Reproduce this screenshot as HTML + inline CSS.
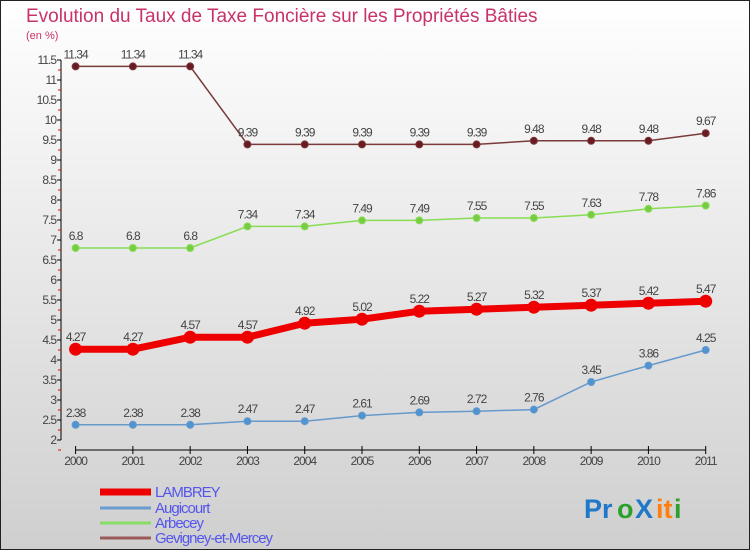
<!DOCTYPE html>
<html><head><meta charset="utf-8"><style>
html,body{margin:0;padding:0}
body{width:750px;height:550px;overflow:hidden;font-family:"Liberation Sans",sans-serif}
</style></head><body>
<svg id="chart" width="750" height="550" xmlns="http://www.w3.org/2000/svg" font-family="Liberation Sans, sans-serif">
<defs><linearGradient id="bg" x1="0" y1="0" x2="0" y2="1"><stop offset="0" stop-color="#ffffff"/><stop offset="1" stop-color="#cfcfcf"/></linearGradient></defs>
<rect x="0.5" y="0.5" width="749" height="549" fill="url(#bg)" stroke="#222" stroke-width="1"/>
<text x="26" y="22" font-size="19" fill="#c8326a">Evolution du Taux de Taxe Foncière sur les Propriétés Bâties</text>
<text x="26" y="39" font-size="11" fill="#c8326a">(en %)</text>
<g id="axes"></g>
<g id="series"></g>
<g id="legend"></g>
<g font-size="27" font-weight="bold">
<text x="584" y="518" fill="#1f78c8">Pr</text><text x="617" y="518" fill="#2ca02c">o</text><text x="635" y="518" fill="#1f78c8">X</text><text x="656" y="518" fill="#ff7f0e">it</text><text x="674" y="518" fill="#2ca02c">i</text>
</g>
</svg>
<script>
const years=["2000","2001","2002","2003","2004","2005","2006","2007","2008","2009","2010","2011"];
const lambrey=[4.27,4.27,4.57,4.57,4.92,5.02,5.22,5.27,5.32,5.37,5.42,5.47];
const augicourt=[2.38,2.38,2.38,2.47,2.47,2.61,2.69,2.72,2.76,3.45,3.86,4.25];
const arbecey=[6.8,6.8,6.8,7.34,7.34,7.49,7.49,7.55,7.55,7.63,7.78,7.86];
const gevigney=[11.34,11.34,11.34,9.39,9.39,9.39,9.39,9.39,9.48,9.48,9.48,9.67];
const yTicks=[2,2.5,3,3.5,4,4.5,5,5.5,6,6.5,7,7.5,8,8.5,9,9.5,10,10.5,11,11.5];
const NS="http://www.w3.org/2000/svg";
function xs(i){return 75.6+i*(705.7-75.6)/11;}
function ys(v){return 440-(v-2)*40;}
function mk(tag,attrs,parent){const e=document.createElementNS(NS,tag);for(const k in attrs)e.setAttribute(k,attrs[k]);parent.appendChild(e);return e;}
const axes=document.getElementById('axes');
let l=mk('line',{x1:61,y1:ys(11.5),x2:61,y2:ys(2),stroke:'#000'},axes);


yTicks.forEach(t=>{
 const y=ys(t);
 const tk=mk('line',{x1:57,y1:y,x2:61,y2:y,stroke:'#000'},axes);
 
 
 const mt=mk('line',{x1:58,y1:y+10,x2:61,y2:y+10,stroke:'#e00'},axes);
 
 
 const tx=mk('text',{x:56,y:y+4,'font-size':12,'text-anchor':'end',fill:'#444','letter-spacing':'-1'},axes);
 tx.textContent=String(t);
 
 
});
l=mk('line',{x1:xs(0),y1:450,x2:xs(11),y2:450,stroke:'#000'},axes);


years.forEach((yr,i)=>{
 const tk=mk('line',{x1:xs(i),y1:446,x2:xs(i),y2:454,stroke:'#000'},axes);
 
 
 const tx=mk('text',{x:xs(i),y:465,'font-size':12,'text-anchor':'middle',fill:'#444','letter-spacing':'-1'},axes);
 tx.textContent=yr;
 
 
});
const ser=document.getElementById('series');
function draw(vals,color,dot,w,r,name){
 const pts=vals.map((v,i)=>xs(i)+','+ys(v)).join(' ');
 const pl=mk('polyline',{points:pts,fill:'none',stroke:color,'stroke-width':w},ser);
 
 
 vals.forEach((v,i)=>{
  const c=mk('circle',{cx:xs(i),cy:ys(v),r:r,fill:dot,stroke:color,'stroke-width':1},ser);
  
  
  const t=mk('text',{x:xs(i),y:ys(v)-8,'font-size':12,'text-anchor':'middle',fill:'#444','letter-spacing':'-1'},ser);
  t.textContent=String(v);
  
  
 });
}
draw(gevigney,'#7a3a3a','#6a1a22',1.5,3.5,'gevigney');
draw(arbecey,'#88dd55','#77cc44',1.5,3.5,'arbecey');
draw(augicourt,'#6699cc','#4f93d0',1.5,3.5,'augicourt');
draw(lambrey,'#ee0000','#ee0000',7,6,'lambrey');
const leg=document.getElementById('legend');
[['LAMBREY','#ee0000',7,492],['Augicourt','#6a9cd0',3,508],['Arbecey','#88dd66',3,523],['Gevigney-et-Mercey','#9a5a5a',3,538]].forEach(e=>{
 const s=mk('line',{x1:100,y1:e[3],x2:151,y2:e[3],stroke:e[1],'stroke-width':e[2]},leg);
 
 
 const t=mk('text',{x:155,y:e[3]+5,'font-size':15,fill:'#5555ee','letter-spacing':'-1'},leg);
 t.textContent=e[0];
 
 
});
</script>
</body></html>
